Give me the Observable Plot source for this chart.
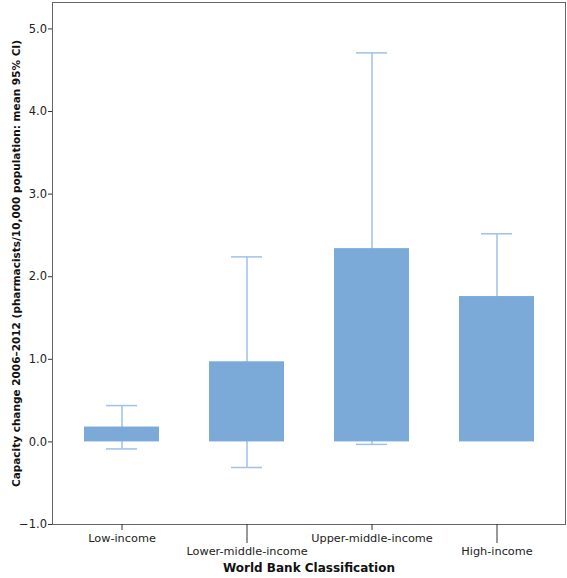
<!DOCTYPE html>
<html><head><meta charset="utf-8">
<script src="https://cdn.jsdelivr.net/npm/d3@7"></script>
<script src="https://cdn.jsdelivr.net/npm/@observablehq/plot@0.6"></script>
<style>body{margin:0;background:#fff;}</style>
</head><body><div id="chart"></div>
<script>
const categories = ["Low-income", "Lower-middle-income", "Upper-middle-income", "High-income"];
const means = [0.18, 0.97, 2.34, 1.76];
const lowerCI = [-0.085, -0.31, -0.03, 1.00];
const upperCI = [0.44, 2.24, 4.71, 2.52];
const yTicks = [-1, 0, 1, 2, 3, 4, 5];
const xLabel = "World Bank Classification";
const yLabel = "Capacity change 2006\u20132012 (pharmacists/10,000 population: mean 95% CI)";

const data = categories.map((c, i) => ({cat: c, mean: means[i], lo: lowerCI[i], hi: upperCI[i]}));
const upperRow = [categories[0], categories[2]];
const lowerRow = [categories[1], categories[3]];

const font = "'DejaVu Sans', sans-serif";
const barColor = "#7BAAD9";
const errColor = "#9FC2E6";

const chart = Plot.plot({
  width: 567,
  height: 578,
  marginLeft: 52,
  marginRight: 2,
  marginTop: 2,
  marginBottom: 54,
  style: {fontFamily: font, fontSize: "11.5px", color: "#222", background: "#fff"},
  x: {domain: categories, paddingInner: 0.4, paddingOuter: 0.244, label: null},
  y: {domain: [-1, 5.32], label: null},
  marks: [
    Plot.ruleX(data, {x: "cat", y1: "lo", y2: "hi", stroke: errColor, strokeWidth: 1.5}),
    Plot.tickY(data, {x: "cat", y: "hi", stroke: errColor, strokeWidth: 1.5, insetLeft: 22, insetRight: 22}),
    Plot.tickY(data, {x: "cat", y: "lo", stroke: errColor, strokeWidth: 1.5, insetLeft: 22, insetRight: 22}),
    Plot.barY(data, {x: "cat", y1: 0, y2: "mean", fill: barColor}),
    Plot.frame({stroke: "#666", strokeWidth: 1}),
    Plot.axisY(yTicks, {tickSize: 4, tickPadding: 1.5, tickFormat: d3.format(".1f"), stroke: "#333", fontSize: 11.5, label: null}),
    Plot.axisX(upperRow, {tickSize: 6, tickPadding: 3, stroke: "#333", fontSize: 11.3, label: null}),
    Plot.axisX(lowerRow, {tickSize: 19, tickPadding: 3, stroke: "#333", fontSize: 11.3, label: null}),
    Plot.ruleX([0], {frameAnchor: "left", stroke: "#333"}),
    Plot.text([xLabel], {frameAnchor: "bottom", dy: 47, text: d => d, fontWeight: "bold", fontSize: 12, fill: "#111"}),
    Plot.text([yLabel], {frameAnchor: "left", textAnchor: "middle", dx: -36, rotate: -90, text: d => d, fontWeight: "bold", fontSize: 10.5, fill: "#111"})
  ]
});
document.getElementById("chart").appendChild(chart);
</script>
</body></html>
